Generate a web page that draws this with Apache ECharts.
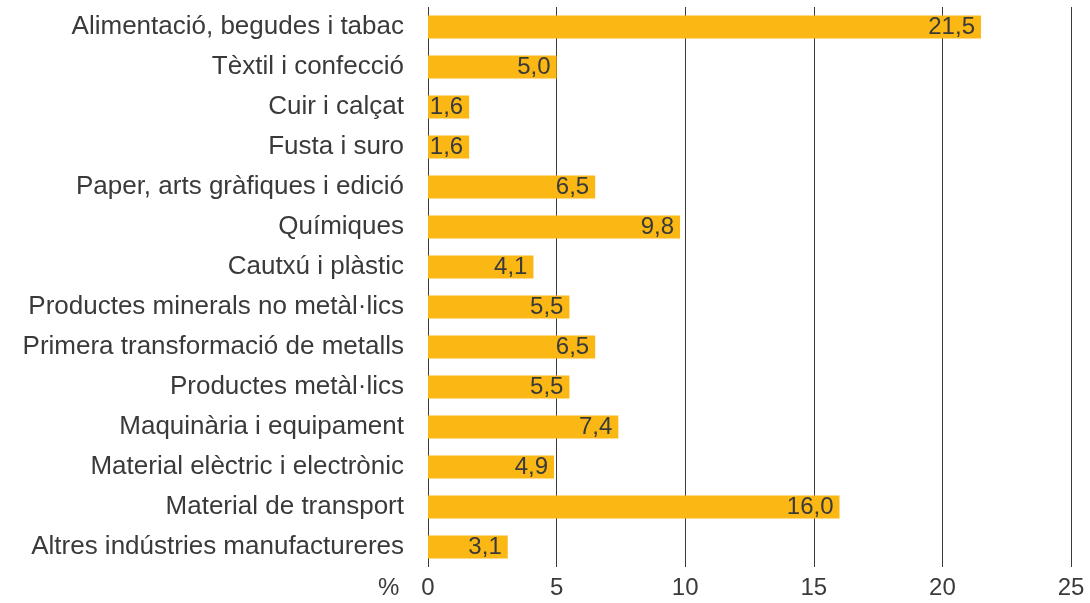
<!DOCTYPE html>
<html><head><meta charset="utf-8">
<script src="https://cdn.jsdelivr.net/npm/echarts@6/dist/echarts.min.js"></script>
<style>html,body{margin:0;padding:0;background:#fff}#c{width:1090px;height:603px}</style>
</head><body><div id="c"></div>
<script>
const categories = ["Alimentació, begudes i tabac","Tèxtil i confecció","Cuir i calçat","Fusta i suro","Paper, arts gràfiques i edició","Químiques","Cautxú i plàstic","Productes minerals no metàl·lics","Primera transformació de metalls","Productes metàl·lics","Maquinària i equipament","Material elèctric i electrònic","Material de transport","Altres indústries manufactureres"];
const values = [21.5,5.0,1.6,1.6,6.5,9.8,4.1,5.5,6.5,5.5,7.4,4.9,16.0,3.1];
const xTicks = [0,5,10,15,20,25];
const unitLabel = "%";
const FONT = "Liberation Sans";
const TXT = '#3a3a3a';
const chart = echarts.init(document.getElementById('c'));
chart.setOption({
  animation:false,
  grid:{left:428,right:19,top:7,bottom:36,containLabel:false},
  xAxis:{type:'value',min:xTicks[0],max:xTicks[xTicks.length-1],interval:5,
    axisLine:{show:false},axisTick:{show:false},
    splitLine:{show:true,lineStyle:{color:'#3a3a3a',width:1}},
    axisLabel:{margin:9,fontSize:24,color:TXT,fontFamily:FONT}},
  yAxis:{type:'category',data:categories,inverse:true,
    axisLine:{show:false},axisTick:{show:false},
    axisLabel:{margin:24,fontSize:26,color:TXT,fontFamily:FONT}},
  graphic:[{type:'text',left:378,top:576,style:{text:unitLabel,fontSize:24,fill:TXT,fontFamily:FONT}}],
  series:[{type:'bar',data:values,barWidth:23,itemStyle:{color:'#FBB814'},
    label:{show:true,position:'insideRight',distance:6,fontSize:24,color:TXT,fontFamily:FONT,
      formatter:p=>p.value.toFixed(1).replace('.',',')}}]
});
</script></body></html>
